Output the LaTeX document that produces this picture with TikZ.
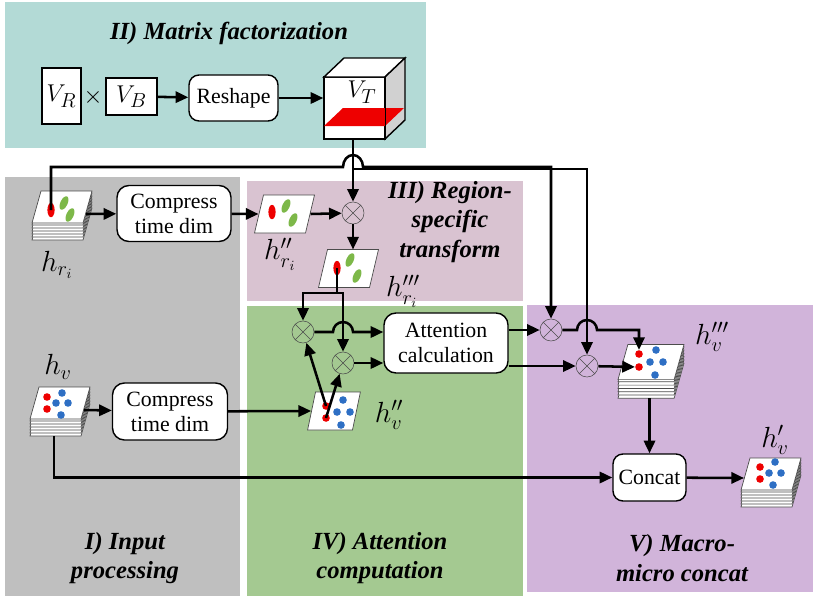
\documentclass[tikz,border=0pt]{standalone}
\usepackage{fontspec}
\setmainfont{Liberation Serif}
\usetikzlibrary{arrows.meta,calc,shapes.geometric}
\definecolor{tealbg}{HTML}{B3DAD6}
\definecolor{graybg}{HTML}{BFBFBF}
\definecolor{mauvebg}{HTML}{D9C3D1}
\definecolor{greenbg}{HTML}{A4C991}
\definecolor{purplebg}{HTML}{D1B4DA}
\definecolor{dotred}{HTML}{EE0000}
\definecolor{dotblue}{HTML}{2E6FC4}
\definecolor{leafgreen}{HTML}{7DB849}
\begin{document}
\begin{tikzpicture}
[x=0.025cm,y=-0.025cm,%
 flow/.style={line width=1.8pt,->,>={Triangle[length=9pt,width=8pt]}},%
 box/.style={draw,line width=1pt,fill=white,rounded corners=0.25cm,align=center,inner sep=1pt,
   font=\fontsize{15.5}{17.8}\selectfont},%
 mat/.style={draw,line width=1pt,fill=white,inner sep=0pt,font=\fontsize{19}{21}\selectfont},%
 mult/.style={circle,draw=black!70,thin,minimum size=0.55cm,inner sep=0pt,
   path picture={\draw[black!70,thin]
     (path picture bounding box.north west) -- (path picture bounding box.south east)
     (path picture bounding box.south west) -- (path picture bounding box.north east);}},%
 panel/.style={font=\fontsize{17.5}{21}\selectfont\bfseries\itshape,align=center,inner sep=1pt},%
 lbl/.style={font=\fontsize{20}{22}\selectfont,inner sep=1pt},%
 sheetline/.style={draw=black!70,fill=white,line width=0.5pt},%
 reddot/.style={circle,fill=dotred,inner sep=0pt,minimum size=0.19cm},%
 bluedot/.style={circle,fill=dotblue,inner sep=0pt,minimum size=0.19cm},%
 redleaf/.style={ellipse,fill=dotred,inner sep=0pt,minimum width=0.18cm,minimum height=0.36cm},%
 greenleaf/.style={ellipse,fill=leafgreen,inner sep=0pt,minimum width=0.18cm,minimum height=0.36cm,rotate=-25},%
 stack/.pic={
   \foreach \d in {17,14,11,8,5,2}
     \draw[sheetline] (-21,\d-16) -- (30,\d-16) -- (21,\d+16) -- (-30,\d+16) -- cycle;
   \draw[sheetline] (-21,-16) -- (30,-16) -- (21,16) -- (-30,16) -- cycle;
   \coordinate (-east) at (24,7);
   \coordinate (-west) at (-27,4);
   \coordinate (-south) at (-6,33);},%
 slice/.pic={
   \draw[sheetline] (-21,-19) -- (30,-19) -- (21,19) -- (-30,19) -- cycle;
   \coordinate (-east) at (26,0);
   \coordinate (-west) at (-26,0);
   \coordinate (-north) at (4,-19);}]
%% panels
\fill[tealbg] (5,2) rectangle (426,148);
\fill[graybg] (5,177) rectangle (240,596);
\fill[mauvebg] (247,181) rectangle (523,301);
\fill[greenbg] (247,306) rectangle (523,596);
\fill[purplebg] (527,305) rectangle (813,592);
\useasboundingbox (0,0) rectangle (813,599);
\node[panel] (titleII) at (229,33) {II) Matrix factorization};
\node[panel] (titleIII) at (450,222) {III) Region-\\specific\\transform};
\node[panel] (titleI) at (125,558) {I) Input\\processing};
\node[panel] (titleIV) at (380,558) {IV) Attention\\computation};
\node[panel] (titleV) at (682,558) {V) Macro-\\micro concat};
%% matrix factorization
\node[mat,minimum width=0.975cm,minimum height=1.4cm] (vr) at (61.5,96) {$V_R$};
\node[font=\fontsize{16}{18}\selectfont] (times) at (93,97) {$\times$};
\node[mat,minimum width=1.275cm,minimum height=0.925cm] (vb) at (131.5,96.5) {$V_B$};
\node[box,minimum width=2.225cm,minimum height=1.15cm] (reshape) at (233.5,98) {Reshape};
\node[draw,line width=1pt,fill=white,minimum width=1.525cm,minimum height=1.55cm,inner sep=0pt] (vt) at (354.5,108) {};
\filldraw[line width=1pt,fill=white] (324,77) -- (344,58) -- (405,58) -- (385,77) -- cycle;
\filldraw[line width=1pt,fill=black!18] (385,77) -- (405,58) -- (405,120) -- (385,139) -- cycle;
\fill[dotred] (324,126) -- (385,126) -- (404,108) -- (343,108) -- cycle;
\draw[line width=1pt] (vt.north east) -- (vt.south east);
\node[mat,draw=none,fill=none] (vtlbl) at (362,92) {$V_T$};
\draw[flow] (vb) -- (reshape);
\draw[flow] (reshape) -- (reshape -| vt.west);
%% input sheets
\pic (hr) at (62,207) {stack};
\node[redleaf] (hrR) at (51,210) {};
\node[greenleaf] (hrG1) at (64,203) {};
\node[greenleaf] (hrG2) at (70,215) {};
\node[lbl] (hrlbl) at (57,265) {$h_{r_i}$};
\pic (hv) at (60,403) {stack};
\node[reddot] (hvR1) at (47,397) {};
\node[reddot] (hvR2) at (47,409) {};
\node[bluedot] (hvB1) at (62,393) {};
\node[bluedot] (hvB2) at (56,403) {};
\node[bluedot] (hvB3) at (68,403) {};
\node[bluedot] (hvB4) at (61,415) {};
\node[lbl] (hvlbl) at (58,367) {$h_v$};
\node[box,minimum width=2.85cm,minimum height=1.4cm,rounded corners=0.3cm] (c1) at (174,213.5) {Compress\\time dim};
\node[box,minimum width=2.875cm,minimum height=1.425cm,rounded corners=0.3cm] (c2) at (170,411.5) {Compress\\time dim};
\draw[flow] (hr-east) -- (c1);
\draw[flow] (hv-east) -- (c2);
%% region-specific transform
\pic (hr2) at (284.5,214) {slice};
\node[redleaf] (hr2R) at (272,212) {};
\node[greenleaf] (hr2G1) at (286,206) {};
\node[greenleaf] (hr2G2) at (293,220) {};
\node[lbl] (hr2lbl) at (280,254) {$h''_{r_i}$};
\node[mult] (m1) at (353,213) {};
\pic (hr3) at (348.5,268.5) {slice};
\node[redleaf] (hr3R) at (337,268) {};
\node[greenleaf] (hr3G1) at (350,260) {};
\node[greenleaf] (hr3G2) at (357,276) {};
\node[lbl] (hr3lbl) at (403,291) {$h'''_{r_i}$};
\draw[flow] (c1) -- (hr2-west);
\draw[flow] (hr2-east) -- (m1);
\draw[flow] (vt.south -| m1) -- (m1);
\draw[flow] (m1) -- (m1 |- hr3-north);
%% attention computation
\node[mult] (m2) at (303,332) {};
\node[mult] (m3) at (343,363) {};
\node[box,minimum width=3.1cm,minimum height=1.5cm,rounded corners=0.3cm] (att) at (446,343) {Attention\\calculation};
\pic[xscale=0.88] (hv2) at (334,411) {slice};
\node[reddot] (hv2R1) at (326,406) {};
\node[reddot] (hv2R2) at (326,418) {};
\node[bluedot] (hv2B1) at (343,400) {};
\node[bluedot] (hv2B2) at (337,412) {};
\node[bluedot] (hv2B3) at (350,412) {};
\node[bluedot] (hv2B4) at (341,425) {};
\node[lbl] (hv2lbl) at (389,415) {$h''_v$};
\coordinate (split) at (337,293);
\draw[flow] (hr3R.center) -- (split) -| (m2);
\draw[flow] (split) -| (m3);
\draw[flow] (c2) -- (hv2-west);
\draw[flow] (hv2R1.center) -- (m2);
\draw[flow] (hv2R2.center) -- (m3);
\draw[flow] (m2) -- ($(m3 |- m2)+(-10,0)$) arc[start angle=180,end angle=0,x radius=0.25cm,y radius=0.25cm] -- (att.west |- m2);
\draw[flow] (m3) -- (att.west |- m3);
%% macro-micro concat
\node[mult] (m4) at (551,330) {};
\node[mult] (m5) at (587,366) {};
\pic[scale=1.1] (hv3) at (651,362) {stack};
\node[reddot] (hv3R1) at (639,354) {};
\node[reddot] (hv3R2) at (639,367) {};
\node[bluedot] (hv3B1) at (656,350) {};
\node[bluedot] (hv3B2) at (650,362) {};
\node[bluedot] (hv3B3) at (663,362) {};
\node[bluedot] (hv3B4) at (655,375) {};
\node[lbl] (hv3lbl) at (712,337) {$h'''_v$};
\node[box,minimum width=1.825cm,minimum height=1.175cm] (concat) at (649.5,477.5) {Concat};
\pic (hvo) at (771,474) {stack};
\node[reddot] (hvoR1) at (760,467) {};
\node[reddot] (hvoR2) at (760,479) {};
\node[bluedot] (hvoB1) at (775,462) {};
\node[bluedot] (hvoB2) at (769,473) {};
\node[bluedot] (hvoB3) at (781,473) {};
\node[bluedot] (hvoB4) at (773,485) {};
\node[lbl] (hvolbl) at (775,440) {$h'_v$};
\draw[flow] (att.east |- m4) -- (m4);
\draw[flow] (att.east |- m5) -- (m5);
\draw[flow] (m4) -- ($(m5 |- m4)+(-10,0)$) arc[start angle=180,end angle=0,x radius=0.25cm,y radius=0.25cm] -| (hv3R1);
\draw[flow] (m5) -- (hv3R2);
\draw[flow] (concat |- hv3-south) -- (concat);
\draw[flow] (concat) -- (hvo-west);
\draw[flow] (hv-south) |- (concat);
%% long skip lines over the top
\coordinate (busR) at (0,167);
\coordinate (busV) at (0,169);
\draw[flow] (hrR.center) |- ($(m1 |- busR)+(-10,0)$) arc[start angle=180,end angle=0,x radius=0.25cm,y radius=0.3cm] -| (m4);
\draw[flow] (m1 |- busV) -| (m5);
\end{tikzpicture}
\end{document}
